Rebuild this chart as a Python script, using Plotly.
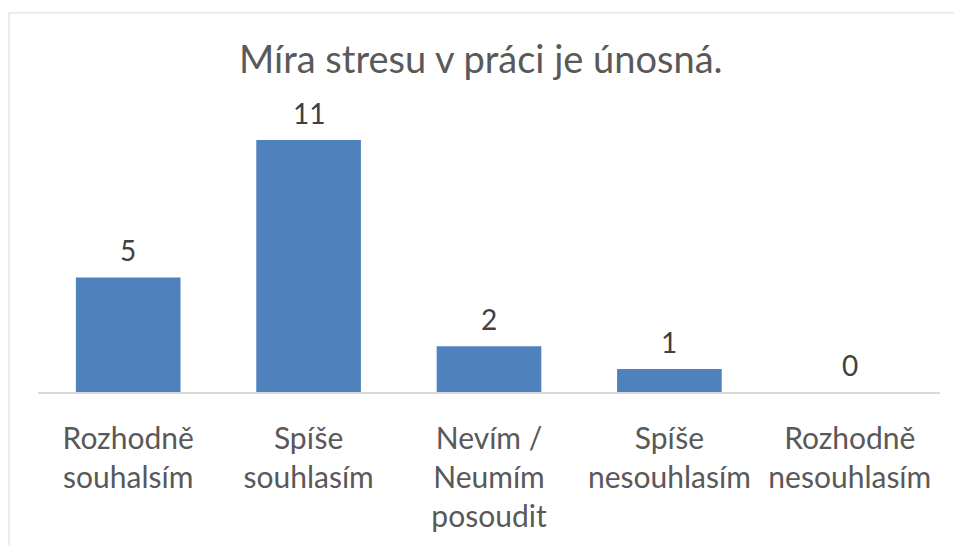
import plotly.graph_objects as go

categories = ["Rozhodně<br>souhalsím", "Spíše<br>souhlasím", "Nevím /<br>Neumím<br>posoudit",
              "Spíše<br>nesouhlasím", "Rozhodně<br>nesouhlasím"]
values = [5, 11, 2, 1, 0]
title_text = "Míra stresu v práci je únosná."

FONT = "Lato, 'Open Sans', sans-serif"
W, H = 954, 545
ml, mr, mt, mb = 38, 14, 117, 148
pw, ph = W - ml - mr, H - mt - mb

fig = go.Figure()
fig.add_trace(go.Bar(x=categories, y=values, marker_color="#4F81BD",
                     marker_line_width=0, width=0.58, hoverinfo="skip"))

for c, v in zip(categories, values):
    fig.add_annotation(x=c, y=v, text=str(v), showarrow=False, yanchor="bottom",
                       yshift=8, font=dict(family=FONT, size=28, color="#404040"))

# chart border
fig.add_shape(type="rect", xref="paper", yref="paper",
              x0=(9 - ml) / pw, x1=(W + 20 - ml) / pw,
              y0=-(H + 20 - mt - ph) / ph, y1=1 + (mt - 11) / ph,
              line=dict(color="#D9D9D9", width=1), fillcolor="rgba(0,0,0,0)", layer="below")

fig.update_layout(
    width=W, height=H,
    margin=dict(l=ml, r=mr, t=mt, b=mb),
    paper_bgcolor="white", plot_bgcolor="white",
    title=dict(text=title_text, x=0.504, xanchor="center", y=1 - 60 / H, yanchor="middle",
               font=dict(family=FONT, size=38, color="#595959")),
    showlegend=False,
    bargap=0.42,
    xaxis=dict(showline=True, linecolor="#D9D9D9", linewidth=1.5, ticks="outside",
               ticklen=19, tickcolor="rgba(0,0,0,0)",
               tickfont=dict(family=FONT, size=30, color="#595959"), showgrid=False),
    yaxis=dict(range=[0, 12], visible=False, showgrid=False, zeroline=False),
)

fig.write_html("out.html", config={"displayModeBar": False},
               post_script="document.body.style.margin='0';document.body.style.overflow='hidden';")
